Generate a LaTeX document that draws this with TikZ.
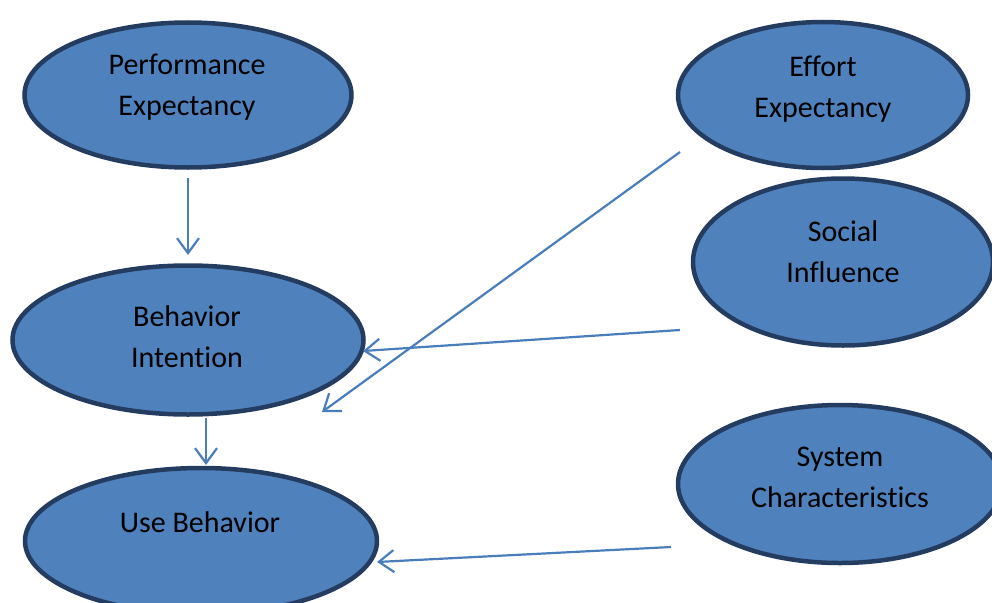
\documentclass[tikz,border=0pt]{standalone}
\usepackage{fontspec}
\setmainfont{Carlito}[Ligatures={NoCommon,NoContextual}]
\usetikzlibrary{shapes.geometric,arrows.meta}
\definecolor{blobfill}{RGB}{79,129,189}
\definecolor{blobline}{RGB}{36,60,96}
\definecolor{arrowline}{RGB}{74,126,187}
\tikzset{
  blob/.style={ellipse, draw=blobline, fill=blobfill, line width=4.5pt, inner sep=0pt},
  txt/.style={align=center, font=\fontsize{30}{41}\selectfont, inner sep=0pt},
  conn/.style={draw=arrowline, line width=2.2pt, -{Straight Barb[length=15pt,width=22pt]}}
}
\begin{document}
\begin{tikzpicture}[x=1pt, y=-1pt]
    \useasboundingbox (0,0) rectangle (992,602);

    % Ellipses
    \node[blob, minimum width=327, minimum height=145] (perf) at (188,95) {};
    \node[blob, minimum width=290, minimum height=146] (effort) at (823,95) {};
    \node[blob, minimum width=300, minimum height=167] (social) at (843,262) {};
    \node[blob, minimum width=351, minimum height=149] (intent) at (188,340) {};
    \node[blob, minimum width=352, minimum height=146] (use) at (201,541) {};
    \node[blob, minimum width=324, minimum height=158] (system) at (840,484) {};

    % Texts
    \node[txt] (perfText) at (187,87) {Performance\\Expectancy};
    \node[txt] (effortText) at (823,89) {Effort\\Expectancy};
    \node[txt] (socialText) at (843,252) {Social\\Influence};
    \node[txt] (intentText) at (187,337) {Behavior\\Intention};
    \node[txt] (useText) at (200,522) {Use Behavior};
    \node[txt] (systemText) at (840,477) {System\\Characteristics};

    % Connector ends
    \coordinate (perfOut) at (188,178);
    \coordinate (intentIn) at (188,255);
    \coordinate (effortOut) at (680,152);
    \coordinate (useInA) at (322,412);
    \coordinate (socialOut) at (680,330);
    \coordinate (intentInB) at (363,351);
    \coordinate (intentOut) at (206,418);
    \coordinate (useInB) at (206,465);
    \coordinate (systemOut) at (671,547);
    \coordinate (useInC) at (377,562);

    % Arrows
    \draw[conn] (perfOut) -- (intentIn);
    \draw[conn] (effortOut) -- (useInA);
    \draw[conn] (socialOut) -- (intentInB);
    \draw[conn] (intentOut) -- (useInB);
    \draw[conn] (systemOut) -- (useInC);
\end{tikzpicture}
\end{document}
